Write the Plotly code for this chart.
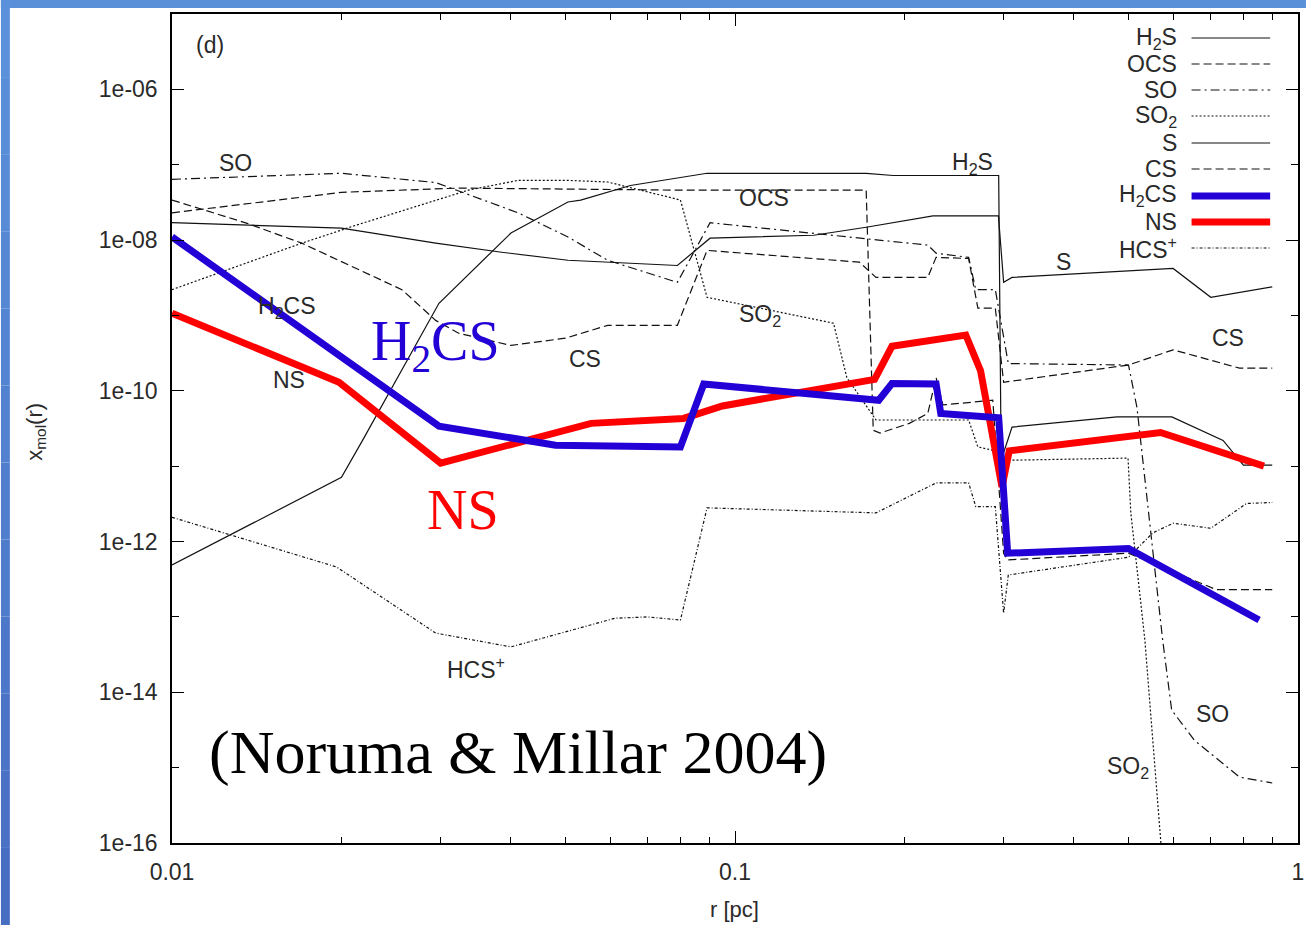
import plotly.graph_objects as go

# ---------------- data ----------------
r_H2S = [0.01, 0.0151, 0.02, 0.0218, 0.0298, 0.04, 0.0505, 0.0532, 0.0652, 0.0892, 0.115, 0.171, 0.191, 0.294, 0.297, 0.3105, 0.477, 0.597, 0.736, 0.8, 0.9]
x_H2S = [4.9e-13, 2.4e-12, 7.1e-12, 2.2e-11, 1.45e-9, 1.24e-8, 3.2e-8, 3.4e-8, 5.3e-8, 7.7e-8, 7.7e-8, 7.7e-8, 7.2e-8, 7.2e-8, 1.2e-11, 3.3e-11, 4.5e-11, 4.5e-11, 2.2e-11, 1.03e-11, 1.03e-11]

r_OCS = [0.01, 0.02, 0.0323, 0.08, 0.171, 0.176, 0.181, 0.204, 0.22, 0.2276, 0.234, 0.287, 0.3, 0.305, 0.5, 0.716, 0.9]
x_OCS = [2.3e-8, 4.3e-8, 4.9e-8, 4.6e-8, 4.6e-8, 3e-11, 2.75e-11, 3.7e-11, 5e-11, 1.5e-10, 6.5e-11, 7.5e-11, 7e-13, 5.7e-13, 7e-13, 2.3e-13, 2.3e-13]

r_SO = [0.01, 0.02, 0.0294, 0.0412, 0.0505, 0.0594, 0.079, 0.0903, 0.18, 0.22, 0.2276, 0.26, 0.2677, 0.29, 0.3058, 0.5, 0.5176, 0.539, 0.575, 0.5965, 0.6548, 0.787, 0.9]
x_SO = [6.4e-8, 7.7e-8, 5.8e-8, 2.3e-8, 1.1e-8, 5.4e-9, 2.75e-9, 1.7e-8, 1e-8, 8.6e-9, 6.7e-9, 5.9e-9, 2.2e-9, 2.2e-9, 2.3e-10, 2.2e-10, 6e-11, 3.9e-12, 4.9e-14, 5.8e-15, 2.3e-15, 7.5e-16, 6.25e-16]

r_SO2 = [0.01, 0.017, 0.0212, 0.0336, 0.0412, 0.0505, 0.0594, 0.08, 0.0892, 0.1496, 0.158, 0.178, 0.26, 0.27, 0.29, 0.31, 0.499, 0.5047, 0.5245, 0.5346, 0.575]
x_SO2 = [2.2e-9, 9.1e-9, 1.57e-8, 4.6e-8, 6.2e-8, 6.2e-8, 5.9e-8, 3.4e-8, 1.74e-9, 7.9e-10, 1.5e-10, 4.1e-11, 4.1e-11, 1.8e-11, 1.6e-11, 1.2e-11, 1.28e-11, 2.4e-12, 1.8e-13, 4.9e-14, 5e-17]

r_S = [0.01, 0.02, 0.0294, 0.0385, 0.0505, 0.079, 0.0903, 0.138, 0.171, 0.2247, 0.2937, 0.300, 0.3105, 0.6, 0.7, 0.9]
x_S = [1.7e-8, 1.44e-8, 9.1e-9, 6.9e-9, 5.4e-9, 4.6e-9, 1.06e-8, 1.16e-8, 1.48e-8, 2.1e-8, 2.1e-8, 2.75e-9, 3.2e-9, 4.2e-9, 1.74e-9, 2.4e-9]

r_CS = [0.01, 0.0136, 0.017, 0.0256, 0.0294, 0.0323, 0.04, 0.05, 0.0594, 0.079, 0.0892, 0.1663, 0.178, 0.22, 0.2276, 0.26, 0.27, 0.29, 0.3, 0.5, 0.6, 0.787, 0.9]
x_CS = [3.4e-8, 1.67e-8, 9.1e-9, 2.2e-9, 8.6e-10, 5.8e-10, 4e-10, 5e-10, 7.4e-10, 7.4e-10, 7.3e-9, 5.1e-9, 3.2e-9, 3.2e-9, 5.9e-9, 5.7e-9, 1.25e-9, 1.25e-9, 1.3e-10, 2.2e-10, 3.5e-10, 2e-10, 2e-10]

r_HCS = [0.01, 0.0196, 0.0294, 0.04, 0.0612, 0.07, 0.08, 0.0892, 0.178, 0.2276, 0.26, 0.2677, 0.29, 0.3, 0.3058, 0.5, 0.552, 0.6, 0.7, 0.81, 0.9]
x_HCS = [2.1e-12, 4.6e-13, 6.1e-14, 4e-14, 9.6e-14, 1e-13, 9.1e-14, 2.8e-12, 2.4e-12, 6e-12, 6e-12, 2.9e-12, 2.9e-12, 1.12e-13, 3.6e-13, 6.2e-13, 1.3e-12, 1.75e-12, 1.5e-12, 3.2e-12, 3.3e-12]

r_H2CS = [0.01, 0.0298, 0.048, 0.08, 0.088, 0.18, 0.19, 0.2276, 0.232, 0.294, 0.305, 0.5, 0.853]
x_H2CS = [1.1e-8, 3.4e-11, 1.9e-11, 1.8e-11, 1.23e-10, 7.5e-11, 1.25e-10, 1.23e-10, 5e-11, 4.4e-11, 7e-13, 8.1e-13, 9.1e-14]

r_NS = [0.01, 0.0198, 0.03, 0.0555, 0.081, 0.095, 0.177, 0.19, 0.257, 0.273, 0.298, 0.307, 0.57, 0.87]
x_NS = [1.07e-9, 1.3e-10, 1.1e-11, 3.7e-11, 4.3e-11, 6.3e-11, 1.42e-10, 3.9e-10, 5.5e-10, 1.85e-10, 5.3e-12, 1.6e-11, 2.8e-11, 1e-11]

x_tickvals = [0.01, 0.1, 1]
x_ticktext = ["0.01", "0.1", "1"]
y_tickvals = [1e-16, 1e-14, 1e-12, 1e-10, 1e-8, 1e-6]
y_ticktext = ["1e-16", "1e-14", "1e-12", "1e-10", "1e-08", "1e-06"]

legend_names = ["H<sub>2</sub>S", "OCS", "SO", "SO<sub>2</sub>", "S", "CS", "H<sub>2</sub>CS", "NS", "HCS<sup>+</sup>"]

# ---------------- styles ----------------
BLUE = "#2200d6"
RED = "#ff0000"
INK = "#111111"
TXT = "#2a2a2a"
SANS = "Liberation Sans, Arial, sans-serif"
SERIF = "Liberation Serif, Times New Roman, serif"

styles = {
    "H2S": dict(color=INK, width=1.2, dash="solid"),
    "OCS": dict(color=INK, width=1.2, dash="8px,4px"),
    "SO": dict(color=INK, width=1.2, dash="9px,4px,2px,4px"),
    "SO2": dict(color=INK, width=1.2, dash="2px,2px"),
    "S": dict(color=INK, width=1.2, dash="solid"),
    "CS": dict(color=INK, width=1.2, dash="8px,4px"),
    "H2CS": dict(color=BLUE, width=7, dash="solid"),
    "NS": dict(color=RED, width=7, dash="solid"),
    "HCS": dict(color=INK, width=1.2, dash="3px,2px,1px,2px"),
}

fig = go.Figure()
thin = [("H2S", r_H2S, x_H2S), ("OCS", r_OCS, x_OCS), ("SO", r_SO, x_SO), ("SO2", r_SO2, x_SO2),
        ("S", r_S, x_S), ("CS", r_CS, x_CS), ("HCS", r_HCS, x_HCS)]
for name, rr, xx in thin:
    fig.add_trace(go.Scatter(x=rr, y=xx, mode="lines", line=styles[name], name=name,
                             showlegend=False, hoverinfo="skip"))
fig.add_trace(go.Scatter(x=r_NS, y=x_NS, mode="lines", line=styles["NS"], name="NS", showlegend=False))
fig.add_trace(go.Scatter(x=r_H2CS, y=x_H2CS, mode="lines", line=styles["H2CS"], name="H2CS", showlegend=False))

# ---------------- layout geometry ----------------
W, H = 1312, 925
L, R, T, B = 172, 1304, 14, 843

def px(xp):
    return (xp - L) / (R - L)

def py(yp):
    return (B - yp) / (B - T)

shapes = []
# blue slide frame (top strip + gradient left strip)
shapes.append(dict(type="rect", xref="paper", yref="paper", x0=px(0), x1=px(W), y0=py(0), y1=py(8),
                   fillcolor="#5990d8", line=dict(width=0), layer="above"))
n = 12
c0, c1 = (90, 145, 218), (72, 110, 194)
for i in range(n):
    t = i / (n - 1)
    col = "rgb(%d,%d,%d)" % tuple(round(a + (b - a) * t) for a, b in zip(c0, c1))
    shapes.append(dict(type="rect", xref="paper", yref="paper", x0=px(0), x1=px(9),
                       y0=py(i * W / n * 0 + (i + 1) * H / n), y1=py(i * H / n),
                       fillcolor=col, line=dict(width=0), layer="above"))

annotations = []
# legend (text right aligned, sample line on the right)
leg_keys = ["H2S", "OCS", "SO", "SO2", "S", "CS", "H2CS", "NS", "HCS"]
leg_y = [38, 64, 90, 116, 143, 169, 196, 222, 248]
for key, label, yy in zip(leg_keys, legend_names, leg_y):
    annotations.append(dict(xref="paper", yref="paper", x=px(1184), y=py(yy), text=label,
                            showarrow=False, xanchor="right", yanchor="middle",
                            font=dict(family=SANS, size=23, color=TXT)))
    st = styles[key]
    w = st["width"] if st["width"] > 2 else 1.2
    shapes.append(dict(type="line", xref="paper", yref="paper", x0=px(1197), x1=px(1276),
                       y0=py(yy), y1=py(yy), line=dict(color=st["color"], width=w, dash=st["dash"])))

# in-plot curve labels
labels = [
    ("(d)", 210, 45), ("SO", 236, 163), ("H<sub>2</sub>S", 977, 163), ("OCS", 767, 198),
    ("SO<sub>2</sub>", 763, 315), ("S", 1068, 262), ("CS", 1234, 338), ("H<sub>2</sub>CS", 288, 307),
    ("CS", 587, 359), ("NS", 290, 380), ("HCS<sup>+</sup>", 478, 668), ("SO", 1218, 714),
    ("SO<sub>2</sub>", 1133, 767),
]
for text, xx, yy in labels:
    annotations.append(dict(xref="paper", yref="paper", x=px(xx), y=py(yy), text=text, showarrow=False,
                            xanchor="center", yanchor="middle", font=dict(family=SANS, size=23, color=TXT)))

# big slide labels
annotations.append(dict(xref="paper", yref="paper", x=px(437), y=py(345), text="H<sub>2</sub>CS",
                        showarrow=False, xanchor="center", yanchor="middle",
                        font=dict(family=SERIF, size=56, color=BLUE)))
annotations.append(dict(xref="paper", yref="paper", x=px(465), y=py(510), text="NS",
                        showarrow=False, xanchor="center", yanchor="middle",
                        font=dict(family=SERIF, size=56, color=RED)))
annotations.append(dict(xref="paper", yref="paper", x=px(520), y=py(752), text="(Noruma &amp; Millar 2004)",
                        showarrow=False, xanchor="center", yanchor="middle",
                        font=dict(family=SERIF, size=62, color="black")))

# axis titles
annotations.append(dict(xref="paper", yref="paper", x=px(35), y=py(432), text="x<sub>mol</sub>(r)",
                        showarrow=False, textangle=-90, xanchor="center", yanchor="middle",
                        font=dict(family=SANS, size=22, color=TXT)))
annotations.append(dict(xref="paper", yref="paper", x=px(737), y=py(909), text="r [pc]",
                        showarrow=False, xanchor="center", yanchor="middle",
                        font=dict(family=SANS, size=22, color=TXT)))

x_minor = [0.02, 0.03, 0.04, 0.05, 0.06, 0.07, 0.08, 0.09, 0.2, 0.3, 0.4, 0.5, 0.6, 0.7, 0.8, 0.9]
y_minor = [1e-15, 1e-13, 1e-11, 1e-9, 1e-7]

fig.update_layout(
    width=W, height=H, margin=dict(l=L, r=W - R, t=T, b=H - B),
    paper_bgcolor="white", plot_bgcolor="white", showlegend=False,
    shapes=shapes, annotations=annotations,
    xaxis=dict(type="log", range=[-2, 0], showgrid=False, zeroline=False, showline=True,
               linecolor="black", linewidth=1.5, mirror="ticks", ticks="inside", ticklen=12,
               tickwidth=1.3, tickcolor="black", tickvals=x_tickvals, ticktext=x_ticktext,
               tickfont=dict(family=SANS, size=23, color=TXT), ticklabelstandoff=8,
               minor=dict(tickvals=x_minor, ticks="inside", ticklen=6, tickwidth=1.3,
                          tickcolor="black", showgrid=False)),
    yaxis=dict(type="log", range=[-16, -5], showgrid=False, zeroline=False, showline=True,
               linecolor="black", linewidth=1.5, mirror="ticks", ticks="inside", ticklen=12,
               tickwidth=1.3, tickcolor="black", tickvals=y_tickvals, ticktext=y_ticktext,
               tickfont=dict(family=SANS, size=23, color=TXT), ticklabelstandoff=8,
               minor=dict(tickvals=y_minor, ticks="inside", ticklen=7, tickwidth=1.3,
                          tickcolor="black", showgrid=False)),
)

fig.write_html("out.html")
